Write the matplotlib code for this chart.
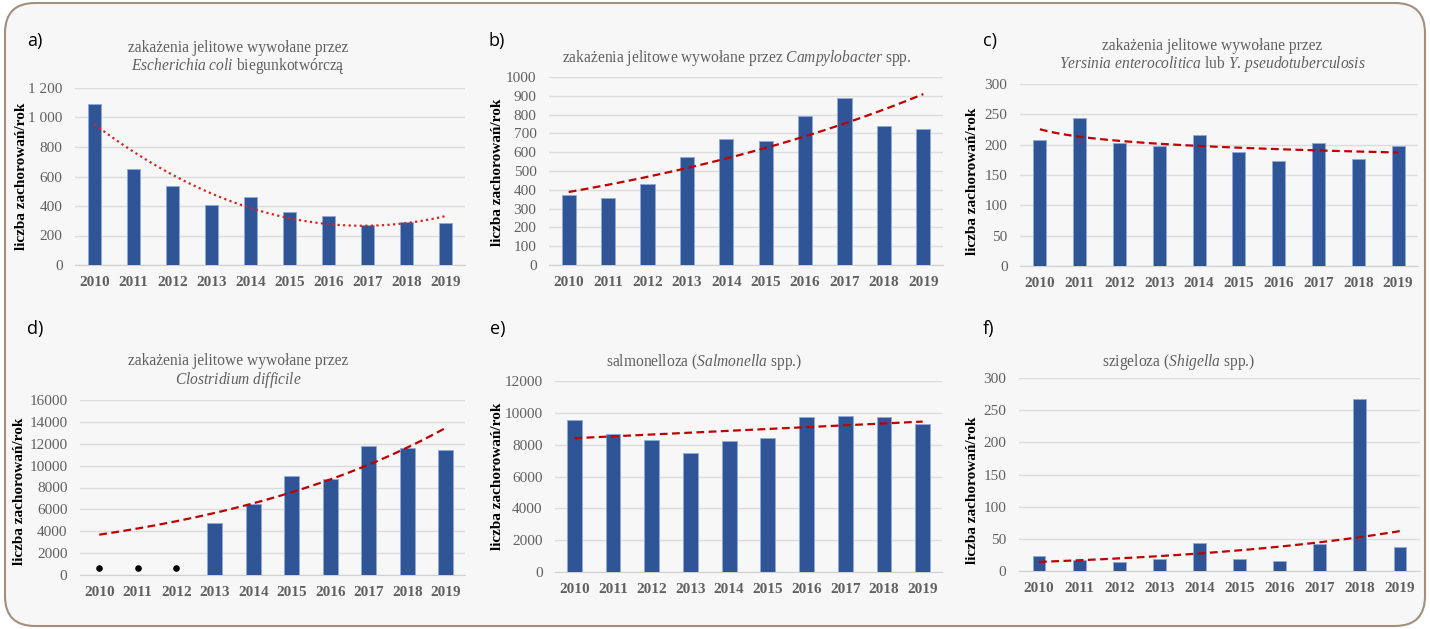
import numpy as np
import matplotlib
matplotlib.use("Agg")
import matplotlib.pyplot as plt
from matplotlib.patches import FancyBboxPatch
from matplotlib.ticker import FuncFormatter

plt.rcParams['font.family'] = ['Liberation Serif', 'DejaVu Serif']
plt.rcParams['mathtext.fontset'] = 'custom'
plt.rcParams['mathtext.rm'] = 'Liberation Serif'
plt.rcParams['mathtext.it'] = 'Liberation Serif:italic'

# ---------------------------------------------
# data
years = ['2010', '2011', '2012', '2013', '2014', '2015', '2016', '2017', '2018', '2019']

ecoli = [1090, 650, 535, 405, 462, 362, 330, 270, 290, 287]
campylobacter = [375, 355, 432, 573, 672, 660, 792, 888, 740, 722]
yersinia = [208, 244, 202, 198, 216, 188, 173, 202, 176, 197]
clostridium = [0, 0, 0, 4800, 6500, 9050, 8800, 11800, 11650, 11400]
clostridium_nodata = [650, 650, 650]   # black dots 2010-2012
salmonella = [9580, 8700, 8300, 7450, 8250, 8450, 9750, 9780, 9720, 9300]
shigella = [24, 17, 14, 19, 43, 18, 15, 42, 267, 37]

# titles, one entry per line
titles = [
    ['zakażenia jelitowe wywołane przez', '$\\mathit{Escherichia\\ coli}$ biegunkotwórczą'],
    ['zakażenia jelitowe wywołane przez $\\mathit{Campylobacter}$ spp.'],
    ['zakażenia jelitowe wywołane przez',
     '$\\mathit{Yersinia\\ enterocolitica}$ lub $\\mathit{Y.}\\,\\mathit{pseudotuberculosis}$'],
    ['zakażenia jelitowe wywołane przez', '$\\mathit{Clostridium\\ difficile}$'],
    ['salmonelloza ($\\mathit{Salmonella}$ spp.)'],
    ['szigeloza ($\\mathit{Shigella}$ spp.)'],
]
letters = ['a)', 'b)', 'c)', 'd)', 'e)', 'f)']
ymax = [1200, 1000, 300, 16000, 12000, 300]
ystep = [200, 100, 50, 2000, 2000, 50]

W, H = 1430, 629
BAR = '#2f5597'
EDGE = '#8faadc'
TREND = '#c00000'
GRAY = '#606060'

fig = plt.figure(figsize=(W / 100, H / 100), dpi=100)
fig.patch.set_facecolor('white')

# rounded frame
frame = FancyBboxPatch((0.05, 0.03), 14.2, 6.23, boxstyle='round,pad=0,rounding_size=0.3',
                       transform=fig.dpi_scale_trans, facecolor='#f7f7f7',
                       edgecolor='#a38f7c', linewidth=1.5, zorder=-10)
fig.patches.append(frame)


def px_axes(x0, x1, y0, y1):
    # y0 = pixel row of the zero line, y1 = pixel row of the top gridline
    return fig.add_axes([x0 / W, (H - y0) / H, (x1 - x0) / W, (y0 - y1) / H])


# axes boxes in pixels: left, right, zero line, top line
boxes = [(75, 465, 265, 88), (549, 943, 265, 77), (1020, 1418, 266, 84),
         (80, 465, 575, 400), (555, 942, 572, 381), (1019, 1420, 571, 378)]
bar_w = [0.31, 0.36, 0.33, 0.38, 0.38, 0.32]
title_x = [238, 737, 1212, 238, 704, 1179]
title_y = [[46, 63], [55], [44, 61], [359, 377], [359], [359]]
letter_pos = [(27, 41), (488, 41), (983, 41), (27, 329), (490, 329), (983, 329)]
ylab_pos = [(22, 176), (497, 172), (973, 181), (20, 491), (497, 476), (973, 490)]

series = [ecoli, campylobacter, yersinia, clostridium, salmonella, shigella]
x = np.arange(len(years))


def thousands(v, pos):
    return '{:,.0f}'.format(v).replace(',', ' ')


for i in range(6):
    x0, x1, y0, y1 = boxes[i]
    ax = px_axes(x0, x1, y0, y1)
    ax.set_facecolor('none')
    ax.set_zorder(1)
    vals = np.array(series[i], dtype=float)

    ax.bar(x, vals, width=bar_w[i], color=BAR, edgecolor=EDGE, linewidth=0.6, zorder=3)

    # trend lines (same types as the Excel trendlines)
    xs = np.linspace(0, 9, 100)
    if i == 0:
        c = np.polyfit(x, vals, 2)
        ax.plot(xs, np.polyval(c, xs), color='#e02020', linestyle=(0, (1, 1.5)), linewidth=1.6, zorder=4)
    elif i == 2:
        c = np.polyfit(np.log(x + 1), np.log(vals), 1)
        ax.plot(xs, np.exp(c[1]) * (xs + 1) ** c[0], color=TREND, linestyle=(0, (3.5, 2)), linewidth=1.6, zorder=4)
    elif i == 3:
        m = vals > 0
        c = np.polyfit(x[m], np.log(vals[m]), 1)
        ax.plot(xs, np.exp(np.polyval(c, xs)), color=TREND, linestyle=(0, (3.5, 2)), linewidth=1.6, zorder=4)
        ax.scatter(x[:3], clostridium_nodata, s=14, color='black', zorder=5)
    elif i == 4:
        c = np.polyfit(x, vals, 1)
        ax.plot(xs, np.polyval(c, xs), color=TREND, linestyle=(0, (3.5, 2)), linewidth=1.6, zorder=4)
    else:
        c = np.polyfit(x, np.log(vals), 1)
        ax.plot(xs, np.exp(np.polyval(c, xs)), color=TREND, linestyle=(0, (3.5, 2)), linewidth=1.6, zorder=4)

    ax.set_xlim(-0.5, 9.5)
    ax.set_ylim(0, ymax[i])
    ax.set_yticks(np.arange(0, ymax[i] + 1, ystep[i]))
    if i == 0:
        ax.yaxis.set_major_formatter(FuncFormatter(thousands))
    ax.set_xticks(x)
    ax.set_xticklabels(years, fontweight='bold')
    ax.tick_params(axis='both', length=0, colors=GRAY, labelsize=11)
    ax.tick_params(axis='y', pad=9)
    ax.tick_params(axis='x', pad=8)
    ax.grid(axis='y', color='#dcdcdc', linewidth=1, zorder=0)
    ax.set_axisbelow(True)
    for s in ['top', 'right', 'left']:
        ax.spines[s].set_visible(False)
    ax.spines['bottom'].set_color('#d0d0d0')
    ax.spines['bottom'].set_zorder(2)

    for line, ty in zip(titles[i], title_y[i]):
        fig.text(title_x[i] / W, 1 - ty / H, line, ha='center', va='center_baseline',
                 fontsize=11.2, color=GRAY)
    lx, ly = letter_pos[i]
    fig.text(lx / W, 1 - ly / H, letters[i], ha='left', va='center', fontsize=13,
             family=['Open Sans', 'DejaVu Sans'], color='black')
    yx, yy = ylab_pos[i]
    fig.text(yx / W, 1 - yy / H, 'liczba zachorowań/rok', rotation=90, ha='center',
             va='center', fontsize=11, fontweight='bold', color='black')

fig.savefig('out.png', dpi=100, facecolor=fig.get_facecolor())
